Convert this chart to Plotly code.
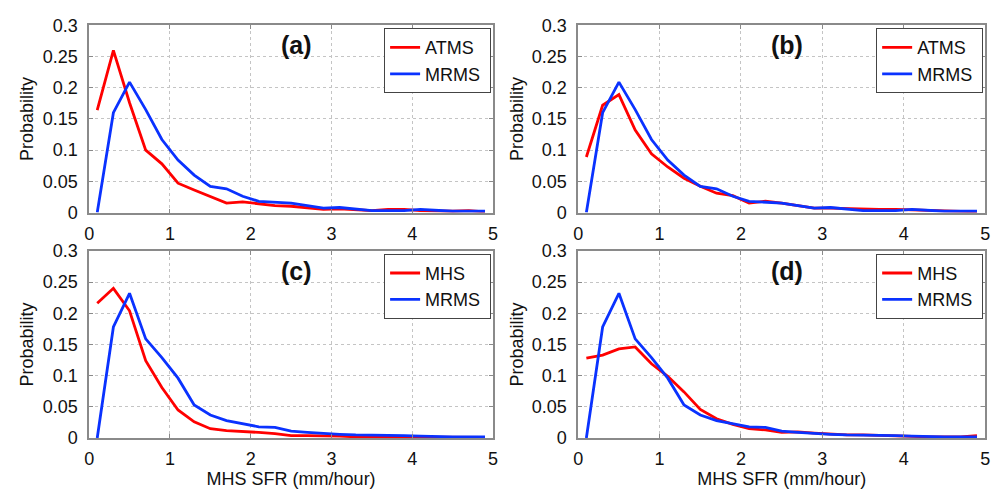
import plotly.graph_objects as go

# bin centres (mm/hour)
sfr = [0.1, 0.3, 0.5, 0.7, 0.9, 1.1, 1.3, 1.5, 1.7, 1.9, 2.1, 2.3, 2.5,
       2.7, 2.9, 3.1, 3.3, 3.5, 3.7, 3.9, 4.1, 4.3, 4.5, 4.7, 4.9]

atms_a = [0.164, 0.260, 0.176, 0.100, 0.078, 0.047, 0.036, 0.025, 0.015, 0.017,
          0.014, 0.011, 0.010, 0.007, 0.005, 0.006, 0.005, 0.003, 0.005, 0.005,
          0.003, 0.002, 0.002, 0.003, 0.001]
mrms_ab = [0.000, 0.160, 0.209, 0.165, 0.117, 0.084, 0.060, 0.042, 0.038, 0.026,
           0.018, 0.016, 0.015, 0.011, 0.007, 0.008, 0.006, 0.003, 0.003, 0.003,
           0.005, 0.003, 0.002, 0.002, 0.002]
atms_b = [0.089, 0.172, 0.189, 0.132, 0.094, 0.073, 0.055, 0.042, 0.031, 0.027,
          0.015, 0.018, 0.015, 0.011, 0.007, 0.007, 0.006, 0.005, 0.005, 0.005,
          0.004, 0.004, 0.002, 0.001, 0.001]
mhs_c = [0.216, 0.240, 0.204, 0.124, 0.081, 0.045, 0.026, 0.015, 0.012, 0.011,
         0.009, 0.007, 0.004, 0.004, 0.004, 0.003, 0.002, 0.002, 0.002, 0.001,
         0.001, 0.001, 0.001, 0.001, 0.001]
mrms_cd = [0.000, 0.178, 0.232, 0.159, 0.129, 0.096, 0.053, 0.037, 0.028, 0.023,
           0.018, 0.017, 0.011, 0.009, 0.007, 0.006, 0.005, 0.005, 0.004, 0.004,
           0.003, 0.002, 0.002, 0.002, 0.002]
mhs_d = [0.128, 0.133, 0.143, 0.146, 0.119, 0.099, 0.074, 0.046, 0.031, 0.022,
         0.015, 0.013, 0.009, 0.010, 0.008, 0.006, 0.005, 0.005, 0.004, 0.003,
         0.003, 0.002, 0.002, 0.002, 0.004]

panels = [
    ("(a)", "ATMS", atms_a, mrms_ab),
    ("(b)", "ATMS", atms_b, mrms_ab),
    ("(c)", "MHS", mhs_c, mrms_cd),
    ("(d)", "MHS", mhs_d, mrms_cd),
]
x_ticks = [0, 1, 2, 3, 4, 5]
y_ticks = [0, 0.05, 0.1, 0.15, 0.2, 0.25, 0.3]
y_ticktext = ["0", "0.05", "0.1", "0.15", "0.2", "0.25", "0.3"]

W, H = 1003, 497
xdoms = [(85, 493), (579, 990)]
ydoms = [(16, 211), (251, 446)]
RED = "#ff0000"
BLUE = "#0a32ff"
FONT = "Liberation Sans, Arial, Helvetica, sans-serif"

fig = go.Figure()
layout = {}
for i, (lab, name, sat, mrms) in enumerate(panels):
    r, c = divmod(i, 2)
    sfx = "" if i == 0 else str(i + 1)
    xa, ya = "x" + sfx, "y" + sfx
    lg = "legend" + sfx
    fig.add_trace(go.Scatter(x=sfr, y=sat, mode="lines", name=name + " ",
                             line=dict(color=RED, width=2.8),
                             xaxis=xa, yaxis=ya, legend=lg))
    fig.add_trace(go.Scatter(x=sfr, y=mrms, mode="lines", name="MRMS ",
                             line=dict(color=BLUE, width=2.8),
                             xaxis=xa, yaxis=ya, legend=lg))
    x0, x1 = xdoms[c]
    y0, y1 = ydoms[r]
    common = dict(showline=True, linecolor="#8a8a8a", linewidth=1.5,
                  mirror="ticks", ticks="inside", ticklen=4,
                  tickcolor="#8a8a8a", showgrid=True, gridcolor="#c4c4c4",
                  griddash="dot", gridwidth=1, zeroline=False,
                  tickfont=dict(size=18, color="#111", family=FONT))
    layout["xaxis" + sfx] = dict(
        domain=[x0 / W, x1 / W], range=[0, 5], tickvals=x_ticks,
        anchor=ya, ticklabelstandoff=4,
        title=dict(text="MHS SFR (mm/hour)" if r == 1 else "",
                   font=dict(size=18, color="#111", family=FONT), standoff=2),
        **common)
    layout["yaxis" + sfx] = dict(
        domain=[1 - y1 / H, 1 - y0 / H], range=[0, 0.3], tickvals=y_ticks,
        ticktext=y_ticktext, anchor=xa, ticklabelstandoff=6,
        title=dict(text="Probability",
                   font=dict(size=18, color="#111", family=FONT), standoff=4),
        **common)
    layout[lg] = dict(
        x=(x1 - 2) / W, y=1 - (y0 + 3) / H, xanchor="right", yanchor="top",
        bgcolor="white", bordercolor="#444", borderwidth=1,
        font=dict(size=18, color="#111", family=FONT),
        tracegroupgap=0, itemwidth=30)
    fig.add_annotation(x=2.57, y=0.268, xref=xa, yref=ya, text="<b>" + lab + "</b>",
                       showarrow=False,
                       font=dict(size=25, color="#111", family=FONT))

fig.update_layout(width=W, height=H, margin=dict(l=0, r=0, t=0, b=0),
                  plot_bgcolor="white", paper_bgcolor="white",
                  font=dict(family=FONT), **layout)
fig.write_html("out.html")
